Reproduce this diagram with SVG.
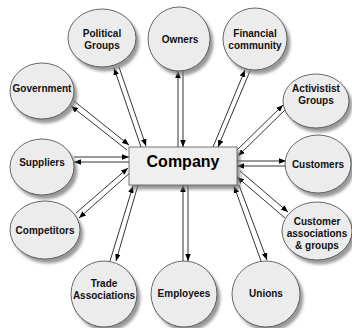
<svg xmlns="http://www.w3.org/2000/svg" width="352" height="328" viewBox="0 0 352 328">
<defs>
<filter id="sh" x="-20%" y="-20%" width="150%" height="150%">
<feDropShadow dx="3" dy="4" stdDeviation="1.6" flood-color="#777" flood-opacity="0.75"/>
</filter>
<marker id="ah" viewBox="0 0 10 8" refX="10" refY="4" markerWidth="7" markerHeight="5.6" markerUnits="userSpaceOnUse" orient="auto">
<path d="M0,0 L10,4 L0,8 Z" fill="#000"/>
</marker>
<style>
.n ellipse{fill:#ececec;stroke:#444;stroke-width:0.8;filter:url(#sh)}
.n text{font-family:"Liberation Sans",Arial,sans-serif;font-weight:bold;font-size:10px;fill:#111;text-anchor:middle}
#company rect{fill:#efefef;stroke:#555;stroke-width:0.8;filter:url(#sh)}
#company text{font-family:"Liberation Sans",Arial,sans-serif;font-weight:bold;font-size:16px;fill:#000;text-anchor:middle}
#connectors line{stroke:#000;stroke-width:0.8;fill:none;marker-end:url(#ah)}
</style>
</defs>
<rect width="352" height="328" fill="#fff"/>
<g id="connectors">
<!-- Owners -->
<line x1="178" y1="147" x2="178" y2="71"/>
<line x1="183" y1="71" x2="183" y2="147"/>
<!-- Political -->
<line x1="141" y1="147" x2="114" y2="68"/>
<line x1="119" y1="67" x2="146" y2="146"/>
<!-- Financial -->
<line x1="213" y1="147" x2="245" y2="70"/>
<line x1="250" y1="71" x2="218" y2="147"/>
<!-- Government -->
<line x1="127" y1="150" x2="71" y2="106"/>
<line x1="74" y1="101" x2="129" y2="145"/>
<!-- Suppliers -->
<line x1="129" y1="162" x2="74" y2="162"/>
<line x1="74" y1="157" x2="129" y2="157"/>
<!-- Activistist -->
<line x1="236" y1="151" x2="283" y2="105"/>
<line x1="286" y1="109" x2="238" y2="156"/>
<!-- Customers -->
<line x1="237" y1="161" x2="286" y2="161"/>
<line x1="286" y1="166" x2="237" y2="166"/>
<!-- Customer associations -->
<line x1="240" y1="171" x2="288" y2="212"/>
<line x1="285" y1="218" x2="237" y2="177"/>
<!-- Unions -->
<line x1="239" y1="185" x2="267" y2="260"/>
<line x1="261" y1="261" x2="234" y2="186"/>
<!-- Employees -->
<line x1="183" y1="261" x2="183" y2="185"/>
<line x1="188" y1="185" x2="188" y2="261"/>
<!-- Trade -->
<line x1="138" y1="185" x2="116" y2="261"/>
<line x1="110" y1="261" x2="133" y2="186"/>
<!-- Competitors -->
<line x1="131" y1="172" x2="79" y2="218"/>
<line x1="76" y1="213" x2="128" y2="168"/>
</g>
<g id="company">
<rect x="129" y="147" width="108" height="38"/>
<text x="183" y="167">Company</text>
</g>
<g id="political" class="n"><ellipse cx="102" cy="38" rx="34" ry="29"/><text x="102" y="37">Political</text><text x="102" y="49">Groups</text></g>
<g id="owners" class="n"><ellipse cx="179" cy="39" rx="31" ry="32"/><text x="180" y="43">Owners</text></g>
<g id="financial" class="n"><ellipse cx="255" cy="39" rx="32" ry="31"/><text x="255" y="37">Financial</text><text x="255" y="49">community</text></g>
<g id="government" class="n"><ellipse cx="42" cy="91" rx="32" ry="28"/><text x="42" y="92">Government</text></g>
<g id="activistist" class="n"><ellipse cx="316" cy="101" rx="33" ry="27"/><text x="316" y="92">Activistist</text><text x="316" y="104">Groups</text></g>
<g id="suppliers" class="n"><ellipse cx="42" cy="167" rx="32" ry="28"/><text x="42" y="166">Suppliers</text></g>
<g id="customers" class="n"><ellipse cx="318" cy="164" rx="33" ry="29"/><text x="318" y="168">Customers</text></g>
<g id="competitors" class="n"><ellipse cx="45" cy="230" rx="35" ry="29"/><text x="45" y="234">Competitors</text></g>
<g id="custassoc" class="n"><ellipse cx="317" cy="231" rx="35" ry="29"/><text x="317" y="225">Customer</text><text x="317" y="237">associations</text><text x="317" y="249">&amp; groups</text></g>
<g id="trade" class="n"><ellipse cx="104" cy="294" rx="33" ry="33"/><text x="104" y="287">Trade</text><text x="104" y="299">Associations</text></g>
<g id="employees" class="n"><ellipse cx="184" cy="294" rx="33" ry="33"/><text x="184" y="297">Employees</text></g>
<g id="unions" class="n"><ellipse cx="266" cy="294" rx="34" ry="33"/><text x="266" y="297">Unions</text></g>
</svg>
